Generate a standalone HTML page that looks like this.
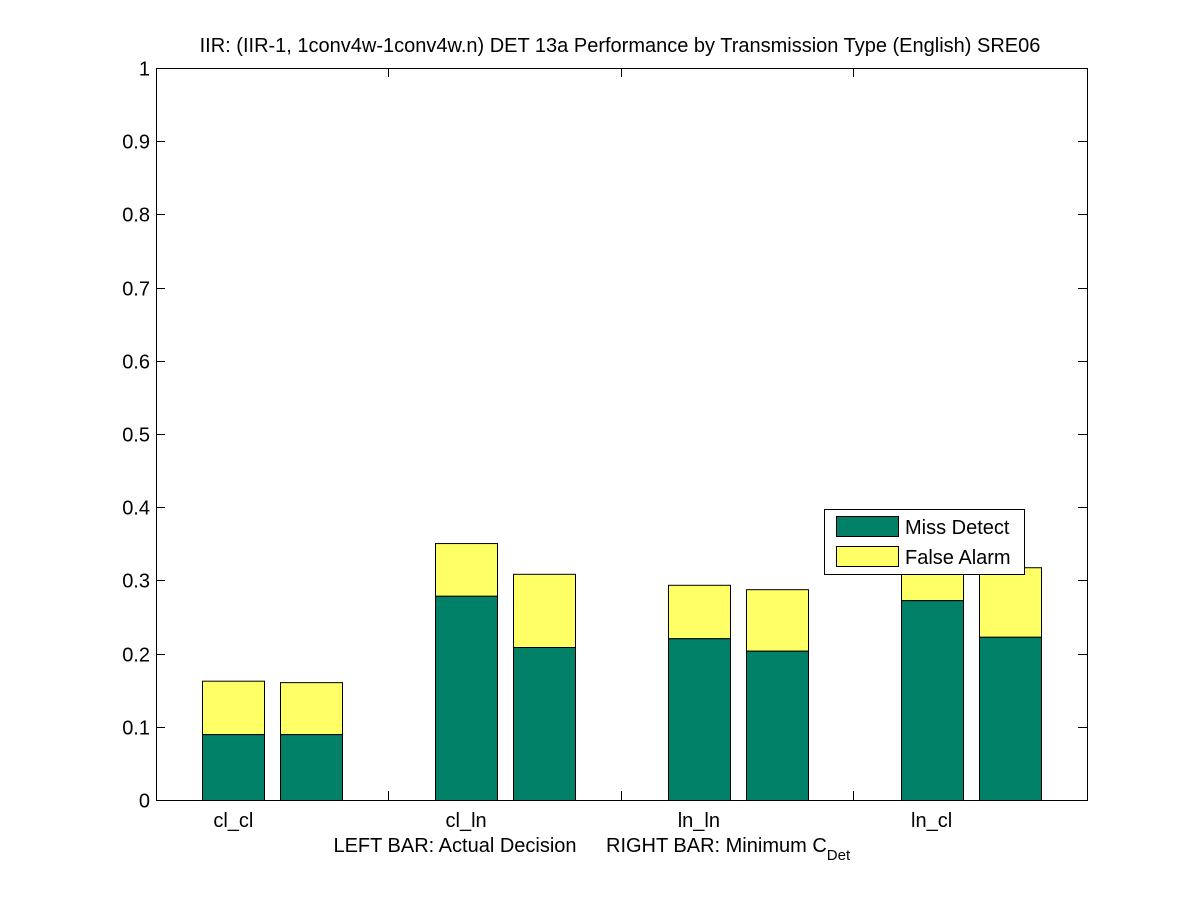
<!DOCTYPE html>
<html><head><meta charset="utf-8"><style>
body{margin:0;background:#fff;}
svg{display:block;font-family:"Liberation Sans",sans-serif;}
</style></head><body>
<svg id="chart" width="1201" height="900">
<rect x="0" y="0" width="1201" height="900" fill="#ffffff"/>
<text x="620" y="52" text-anchor="middle" font-size="20">IIR: (IIR-1, 1conv4w-1conv4w.n) DET 13a Performance by Transmission Type (English) SRE06</text>
<g id="bars"></g>
<rect x="156.5" y="68.5" width="931" height="732" fill="none" stroke="#000"/>
<g id="axes"></g>
<text x="455" y="852" text-anchor="middle" font-size="20">LEFT BAR: Actual Decision</text>
<text x="606" y="852" font-size="20">RIGHT BAR: Minimum C<tspan font-size="15" dy="8">Det</tspan></text>
<g>
<rect x="824.5" y="509.5" width="200" height="65" fill="#fff" stroke="#000"/>
<rect x="836.5" y="516.5" width="62" height="20" fill="#008066" stroke="#000"/>
<text x="905" y="534" font-size="20">Miss Detect</text>
<rect x="836.5" y="546.5" width="62" height="20" fill="#ffff66" stroke="#000"/>
<text x="905" y="564" font-size="20">False Alarm</text>
</g>
</svg>
<script>
const categories=["cl_cl","cl_ln","ln_ln","ln_cl"];
const missLeft=[0.090,0.279,0.221,0.273];
const totalLeft=[0.163,0.351,0.294,0.345];
const missRight=[0.090,0.209,0.204,0.223];
const totalRight=[0.161,0.309,0.288,0.318];
const yTicks=[0,0.1,0.2,0.3,0.4,0.5,0.6,0.7,0.8,0.9,1];
const yLabels=["0","0.1","0.2","0.3","0.4","0.5","0.6","0.7","0.8","0.9","1"];

const NS="http://www.w3.org/2000/svg";
const X0=156,X1=1087,Y0=800,Y1=68;
const groupW=(X1-X0)/categories.length;
function xCenter(i){return X0+groupW*(i+0.5);}
function y(v){return Y0-(Y0-Y1)*v;}
const barW=62;
const bars=document.getElementById('bars');
const axes=document.getElementById('axes');
function rect(x,y1,y2,fill,name){
  const r=document.createElementNS(NS,'rect');
  r.setAttribute('x',x+0.5);r.setAttribute('y',y2+0.5);
  r.setAttribute('width',barW);r.setAttribute('height',Math.max(0,y1-y2));
  r.setAttribute('fill',fill);r.setAttribute('stroke','#000');
  
  
  bars.appendChild(r);
}
categories.forEach((c,i)=>{
  const cx=xCenter(i);
  const lx=Math.round(cx-31-39), rx=Math.round(cx-31+39);
  rect(lx,y(missLeft[i]),y(totalLeft[i]),'#ffff66','bar-'+c+'-left-false-alarm');
  rect(lx,y(0),y(missLeft[i]),'#008066','bar-'+c+'-left-miss');
  rect(rx,y(missRight[i]),y(totalRight[i]),'#ffff66','bar-'+c+'-right-false-alarm');
  rect(rx,y(0),y(missRight[i]),'#008066','bar-'+c+'-right-miss');
  const t=document.createElementNS(NS,'text');
  t.setAttribute('x',cx-39);t.setAttribute('y',827);t.setAttribute('text-anchor','middle');t.setAttribute('font-size','20');
  t.textContent=c;
  
  
  axes.appendChild(t);
  if(i>0){
    const sx=Math.round(X0+groupW*i)-0.5;
    ['b','t'].forEach(k=>{
      const l=document.createElementNS(NS,'line');
      const ya=k==='b'?Y0:Y1, yb=k==='b'?Y0-9:Y1+9;
      l.setAttribute('x1',sx);l.setAttribute('x2',sx);l.setAttribute('y1',ya);l.setAttribute('y2',yb);l.setAttribute('stroke','#000');
      
      
      axes.appendChild(l);
    });
  }
});
yTicks.forEach((v,i)=>{
  const yy=Math.round(y(v))+0.5;
  [[X0,X0+9],[X1,X1-9]].forEach(p=>{
    const l=document.createElementNS(NS,'line');
    l.setAttribute('x1',p[0]);l.setAttribute('x2',p[1]);l.setAttribute('y1',yy);l.setAttribute('y2',yy);l.setAttribute('stroke','#000');
    
    
    axes.appendChild(l);
  });
  const t=document.createElementNS(NS,'text');
  t.setAttribute('x',150);t.setAttribute('y',yy+7);t.setAttribute('text-anchor','end');t.setAttribute('font-size','20');
  t.textContent=yLabels[i];
  
  
  axes.appendChild(t);
});
</script>
</body></html>
